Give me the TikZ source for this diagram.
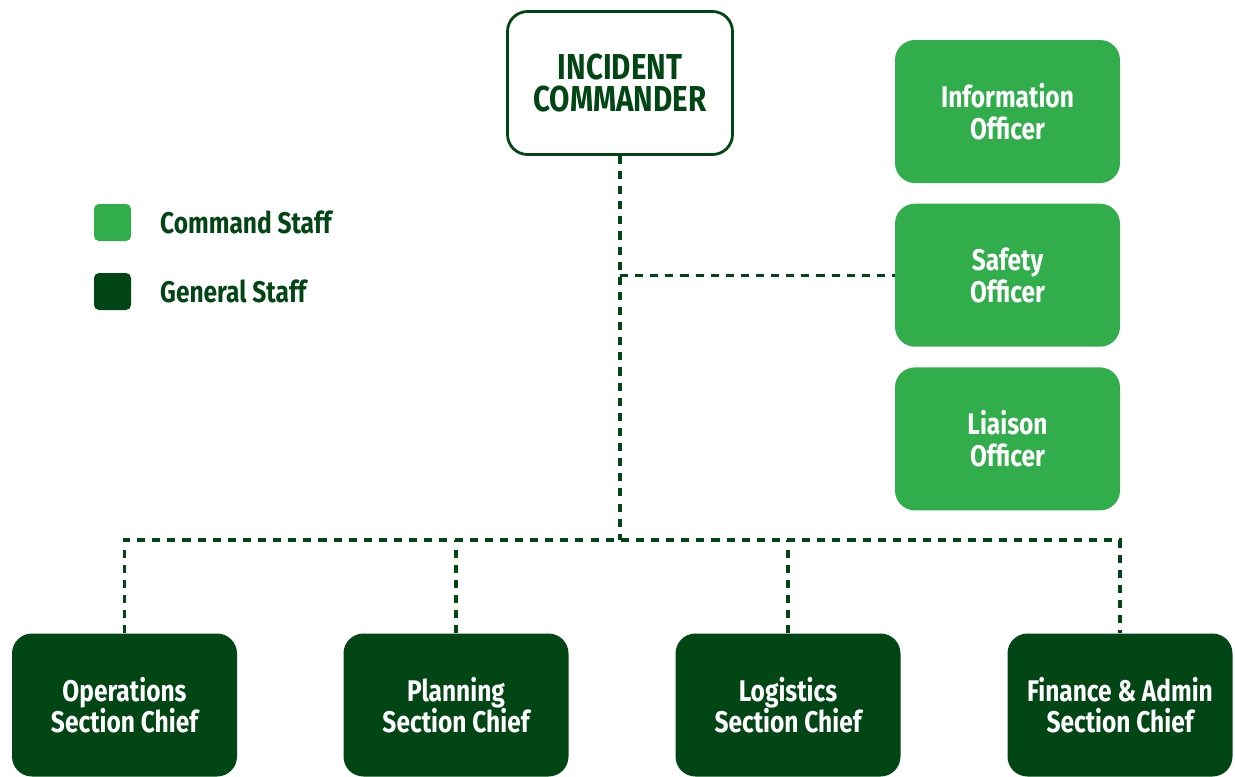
\documentclass[tikz,border=0pt]{standalone}
\usepackage{fontspec}
\setmainfont[FakeStretch=0.82]{Fira Sans}
\usetikzlibrary{positioning}
\definecolor{cmdgreen}{RGB}{50,173,76}
\definecolor{gengreen}{RGB}{3,70,21}
\tikzset{block/.style=
   {rectangle,
    text centered,
    align=center,
    rounded corners=0.4cm,
    minimum width=4.5cm,
    minimum height=2.86cm,
    font=\fontsize{17}{18}\selectfont\bfseries}}
\tikzset{cmdblock/.style =
   {block,
    fill=cmdgreen,
    text=white}}
\tikzset{genblock/.style =
   {block,
    fill=gengreen,
    text=white}}
\tikzset{headblock/.style =
   {block,
    draw=gengreen,
    line width=1.6pt,
    fill=white,
    text=gengreen,
    font=\fontsize{20.5}{18.5}\selectfont\bfseries}}
\tikzset{keybox/.style =
   {rectangle,
    rounded corners=0.1cm,
    minimum size=0.74cm}}
\tikzset{keytext/.style =
   {text=gengreen,
    anchor=west,
    font=\fontsize{17}{18}\selectfont\bfseries}}
\tikzset{link/.style = {draw=gengreen, line width=1.9pt, dash pattern=on 4.6pt off 4pt}}

\begin{document}
\begin{tikzpicture}
    \useasboundingbox (0,0) rectangle (24.7,-15.52);

    % top of the chart
    \node [headblock] (ic) at (12.4,-1.66) {INCIDENT\\COMMANDER};

    % command staff column
    \node [cmdblock] (info) at (20.15,-2.23) {Information\\Officer};
    \node [cmdblock, below = 0.4cm of info] (safety) {Safety\\Officer};
    \node [cmdblock, below = 0.4cm of safety] (liaison) {Liaison\\Officer};

    % general staff row
    \node [genblock] (ops) at (2.49,-14.1) {Operations\\Section Chief};
    \node [genblock] (plan) at (9.12,-14.1) {Planning\\Section Chief};
    \node [genblock] (logi) at (15.76,-14.1) {Logistics\\Section Chief};
    \node [genblock] (fin) at (22.4,-14.1) {Finance \& Admin\\Section Chief};

    % key
    \node [keybox, fill=cmdgreen] (keycmd) at (2.25,-4.45) {};
    \node [keybox, fill=gengreen] (keygen) at (2.25,-5.83) {};
    \node [keytext] (keycmdtxt) at (3.08,-4.45) {Command Staff};
    \node [keytext] (keygentxt) at (3.08,-5.83) {General Staff};

    % dashed lines
    \coordinate (bus) at (0,-10.8);
    \draw [link] (ic.south) -- (ic.south |- bus);
    \draw [link] (ic.south |- safety.west) -- (safety.west);
    \draw [link] (ops.north) -- (ops.north |- bus) -- (fin.north |- bus) -- (fin.north);
    \draw [link] (plan.north) -- (plan.north |- bus);
    \draw [link] (logi.north) -- (logi.north |- bus);

\end{tikzpicture}
\end{document}
